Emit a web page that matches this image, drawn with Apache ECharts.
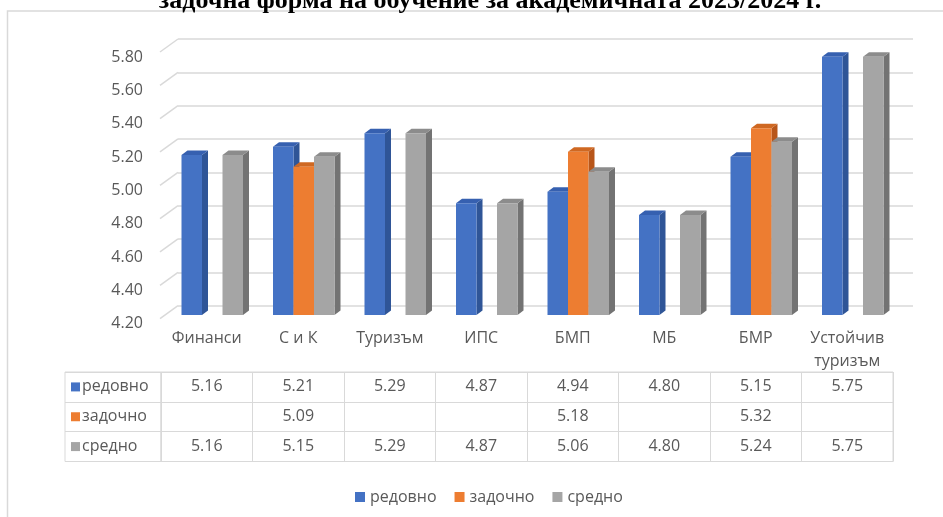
<!DOCTYPE html>
<html><head><meta charset="utf-8">
<script src="https://cdn.jsdelivr.net/npm/echarts@6/dist/echarts.min.js"></script>
<style>html,body{margin:0;padding:0;background:#fff}#c{width:943px;height:517px}</style>
</head><body><div id="c"></div>
<script>
const categories = ['Финанси','С и К','Туризъм','ИПС','БМП','МБ','БМР','Устойчив туризъм'];
const redovno  = [5.16, 5.21, 5.29, 4.87, 4.94, 4.80, 5.15, 5.75];
const zadochno = [null, 5.09, null, null, 5.18, null, 5.32, null];
const sredno   = [5.16, 5.15, 5.29, 4.87, 5.06, 4.80, 5.24, 5.75];
const seriesNames = ['редовно','задочно','средно'];
const yTicks = [4.2, 4.4, 4.6, 4.8, 5.0, 5.2, 5.4, 5.6, 5.8];
const titleText = 'задочна форма на обучение за академичната 2023/2024 г.';

const yMin = 4.2, yMax = 5.8, yStep = 0.2;
const FONT = '"Open Sans", "Noto Sans", sans-serif';
const FS = 16;
const TXT = '#595959';
const LINE = '#d9d9d9';
const palette = [
  {front:'#4472C4', side:'#2F5597', top:'#3660B0'},
  {front:'#ED7D31', side:'#B8561A', top:'#CF6822'},
  {front:'#A5A5A5', side:'#737373', top:'#8C8C8C'}
];
const allSeries = [redovno, zadochno, sredno];

function bar3d(si){
  return function(params, api){
    const ci = api.value(0), v = api.value(1);
    if (v == null || isNaN(v)) return;
    const top = api.coord([ci, v]);
    const base = api.coord([ci, yMin]);
    const bw = 20.5, d = 6, h = 4.5;
    const x0 = top[0] + 5.5 + (si - 1) * bw - bw / 2;
    const x1 = x0 + bw;
    const c = palette[si];
    return {type:'group', children:[
      {type:'polygon', shape:{points:[[x1,top[1]],[x1+d,top[1]-h],[x1+d,base[1]-h],[x1,base[1]]]}, style:{fill:c.side}},
      {type:'polygon', shape:{points:[[x0,top[1]],[x0+d,top[1]-h],[x1+d,top[1]-h],[x1,top[1]]]}, style:{fill:c.top}},
      {type:'rect', shape:{x:x0, y:top[1], width:bw, height:base[1]-top[1]}, style:{fill:c.front}}
    ]};
  };
}

const chart = echarts.init(document.getElementById('c'), null, {renderer:'canvas'});

const grids = [
  {left:160, right:30, top:57, bottom:193.3},          // 0 y labels
  {left:178, right:30, top:39, bottom:211.4},          // 1 back gridlines
  {left:161, right:50, top:48.3, bottom:202},          // 2 bars
  {left:161, right:50, top:318, height:54},            // 3 header
  {left:161, right:50, top:372, height:89.5, show:true, borderColor:LINE, borderWidth:1}, // 4 table
  {left:65, width:96, top:372, height:89.5, show:true, borderColor:LINE, borderWidth:1}   // 5 row labels
];

const hidden = {axisLine:{show:false}, axisTick:{show:false}, axisLabel:{show:false}, splitLine:{show:false}};

const xAxes = [
  Object.assign({gridIndex:0, type:'value', min:0, max:1}, hidden),
  Object.assign({gridIndex:1, type:'value', min:0, max:1}, hidden),
  Object.assign({gridIndex:2, type:'category', data:categories}, hidden),
  {gridIndex:3, type:'category', data:categories, position:'top',
    axisLine:{show:false},
    axisTick:{show:true, inside:true, length:54, interval:0, lineStyle:{color:LINE}},
    splitLine:{show:false},
    axisLabel:{inside:true, margin:9, interval:0, fontSize:FS, fontFamily:FONT, color:TXT,
      lineHeight:23, overflow:'none', hideOverlap:false, align:'center',
      formatter: v => v.length > 10 ? v.replace(' ', '\n') : v}},
  {gridIndex:4, type:'category', data:categories, axisLine:{show:false}, axisTick:{show:false},
    axisLabel:{show:false}, splitLine:{show:true, interval:0, lineStyle:{color:LINE}}},
  Object.assign({gridIndex:5, type:'category', data:['']}, hidden)
];

const yAxes = [
  {gridIndex:0, type:'value', min:yMin, max:yMax, interval:yStep,
    axisLine:{show:false}, axisTick:{show:false}, splitLine:{show:false},
    axisLabel:{margin:17, fontSize:FS, fontFamily:FONT, color:TXT, formatter:v=>v.toFixed(2)}},
  {gridIndex:1, type:'value', min:yMin, max:yMax, interval:yStep,
    axisLine:{show:false}, axisTick:{show:false}, axisLabel:{show:false},
    splitLine:{show:true, lineStyle:{color:LINE, width:1.5}}},
  Object.assign({gridIndex:2, type:'value', min:yMin, max:yMax}, hidden),
  Object.assign({gridIndex:3, type:'value', min:0, max:1}, hidden),
  {gridIndex:4, type:'category', data:seriesNames, inverse:true, axisLine:{show:false}, axisTick:{show:false},
    axisLabel:{show:false}, splitLine:{show:true, interval:0, lineStyle:{color:LINE}}},
  {gridIndex:5, type:'category', data:seriesNames, inverse:true, axisLine:{show:false}, axisTick:{show:false},
    splitLine:{show:true, interval:0, lineStyle:{color:LINE}},
    axisLabel:{inside:true, margin:6, interval:0,
      formatter:(val, idx)=>'{s'+idx+'|}{t|'+val+'}',
      rich:{
        s0:{backgroundColor:palette[0].front, width:9, height:9},
        s1:{backgroundColor:palette[1].front, width:9, height:9},
        s2:{backgroundColor:palette[2].front, width:9, height:9},
        t:{fontSize:FS, fontFamily:FONT, color:TXT, padding:[0,0,0,2]}
      }}}
];

const series = [];
// diagonals of the gridlines (3D depth)
series.push({type:'custom', xAxisIndex:1, yAxisIndex:1, silent:true, z:1,
  data: yTicks.map(v=>[0, v]),
  renderItem:(params, api)=>{
    const p = api.coord([0, api.value(1)]);
    return {type:'line', shape:{x1:p[0], y1:p[1], x2:p[0]-18, y2:p[1]+13}, style:{stroke:LINE, lineWidth:1.5}};
  }});
// bars
seriesNames.forEach((name, si)=>{
  series.push({type:'custom', name:name, xAxisIndex:2, yAxisIndex:2, z:5,
    itemStyle:{color:palette[si].front},
    data: allSeries[si].map((v,i)=>[i, v == null ? NaN : v]),
    renderItem: bar3d(si)});
});
// table values
series.push({type:'custom', name:'table', xAxisIndex:4, yAxisIndex:4, silent:true, z:5,
  data: [].concat(...allSeries.map((arr, ri)=>arr.map((v,i)=>[i, ri, v == null ? NaN : v]))),
  renderItem:(params, api)=>{
    const v = api.value(2);
    if (isNaN(v)) return;
    const p = api.coord([api.value(0), api.value(1)]);
    return {type:'text', x:p[0], y:p[1], style:{text:v.toFixed(2), fill:TXT, font:FS+'px '+FONT, align:'center', verticalAlign:'middle'}};
  }});

chart.setOption({
  backgroundColor:'#fff',
  animation:false,
  graphic:[
    {type:'rect', z:-10, shape:{x:7.5, y:11, width:960, height:540}, style:{fill:'none', stroke:'#d9d9d9', lineWidth:1.5}},
    {type:'text', x:490, y:14, style:{text:titleText, font:'bold 26px "Liberation Serif", serif', fill:'#000', align:'center', verticalAlign:'bottom'}}
  ],
  legend:{data:seriesNames, top:484, left:350, icon:'rect', itemWidth:10, itemHeight:10, itemGap:18,
    textStyle:{fontSize:FS, fontFamily:FONT, color:TXT}},
  grid:grids, xAxis:xAxes, yAxis:yAxes, series:series
});
</script></body></html>
